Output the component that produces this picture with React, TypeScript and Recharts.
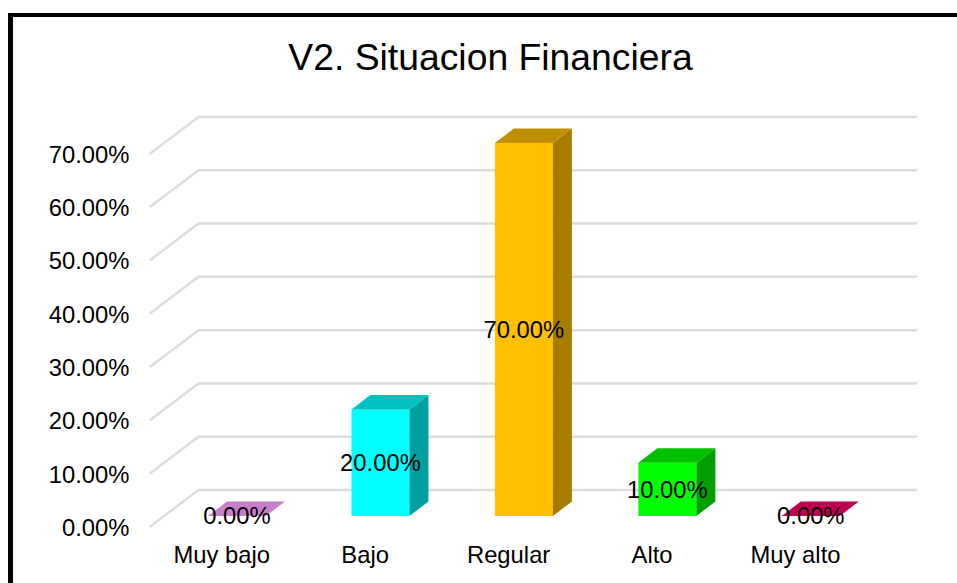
import { Bar, BarChart, CartesianGrid, LabelList, XAxis, YAxis } from 'recharts';

const categories = ['Muy bajo', 'Bajo', 'Regular', 'Alto', 'Muy alto'];
const percentages = [0, 20, 70, 10, 0];
const yTicks = [0, 10, 20, 30, 40, 50, 60, 70];

const frontColors = ['#c77fc9', '#00ffff', '#ffc000', '#00ff00', '#c00050'];
const topColors = ['#c77fc9', '#00c0c0', '#c09000', '#00c000', '#c00050'];
const sideColors = ['#9a5f9c', '#00a0a0', '#a67d00', '#00a000', '#a00040'];

const rows = categories.map((name, i) => ({ name, value: percentages[i] }));

const FONT = '"Liberation Sans", Arial, sans-serif';
const DEPTH_X = 19;
const DEPTH_Y = 14.5;

// the 3D box, zero-height bars end up as just the top face
function Box3D(props: any) {
  const { x, y, width, height, index } = props;
  const r = x + width;
  const b = y + height;
  return (
    <g>
      {height > 0 && <rect x={x} y={y} width={width} height={height} fill={frontColors[index]} />}
      {height > 0 && (
        <polygon
          points={`${r},${y} ${r + DEPTH_X},${y - DEPTH_Y} ${r + DEPTH_X},${b - DEPTH_Y} ${r},${b}`}
          fill={sideColors[index]}
        />
      )}
      <polygon
        points={`${x},${y} ${x + DEPTH_X},${y - DEPTH_Y} ${r + DEPTH_X},${y - DEPTH_Y} ${r},${y}`}
        fill={topColors[index]}
      />
    </g>
  );
}

function GridLine3D(props: any) {
  const { y1, x2 } = props;
  return (
    <polyline
      points={`149.5,${y1 + 11} 198.5,${y1 - 26} ${x2 + 34.75},${y1 - 26}`}
      fill="none"
      stroke="#dcdcdc"
      strokeWidth={2.5}
    />
  );
}

function YTick(props: any) {
  const { y, payload } = props;
  return (
    <text x={129.5} y={y + 19.8} textAnchor="end" fontFamily={FONT} fontSize={23.8} fill="#000">
      {`${payload.value.toFixed(2)}%`}
    </text>
  );
}

function XTick(props: any) {
  const { x, payload } = props;
  return (
    <text x={x - 15} y={563} textAnchor="middle" fontFamily={FONT} fontSize={23.8} fill="#000">
      {payload.value}
    </text>
  );
}

export default function App() {
  return (
    <div style={{ position: 'fixed', left: 0, top: 0, width: 957, height: 583, overflow: 'hidden', background: '#fff' }}>
      <div
        style={{
          position: 'absolute',
          left: 8,
          top: 13,
          width: 960,
          height: 600,
          borderLeft: '5px solid #000',
          borderTop: '4px solid #000',
        }}
      />
      <div style={{ position: 'absolute', left: 0, top: 0 }}>
        <BarChart
          width={957}
          height={583}
          data={rows}
          barSize={58}
          margin={{ top: 143, right: 74.75, bottom: 0, left: 5 }}
        >
          <text x={490.5} y={70} textAnchor="middle" fontFamily={FONT} fontSize={37.3} fill="#000">
            V2. Situacion Financiera
          </text>
          <CartesianGrid vertical={false} horizontal={GridLine3D} />
          <XAxis dataKey="name" height={67} axisLine={false} tickLine={false} tick={XTick} interval={0} />
          <YAxis
            width={160}
            domain={[0, 70]}
            ticks={yTicks}
            axisLine={false}
            tickLine={false}
            tick={YTick}
            interval={0}
          />
          <Bar dataKey="value" isAnimationActive={false} shape={Box3D}>
            <LabelList
              dataKey="value"
              position="center"
              formatter={(v: number) => `${v.toFixed(2)}%`}
              fontFamily={FONT}
              fontSize={23.8}
              fill="#000"
            />
          </Bar>
        </BarChart>
      </div>
    </div>
  );
}
